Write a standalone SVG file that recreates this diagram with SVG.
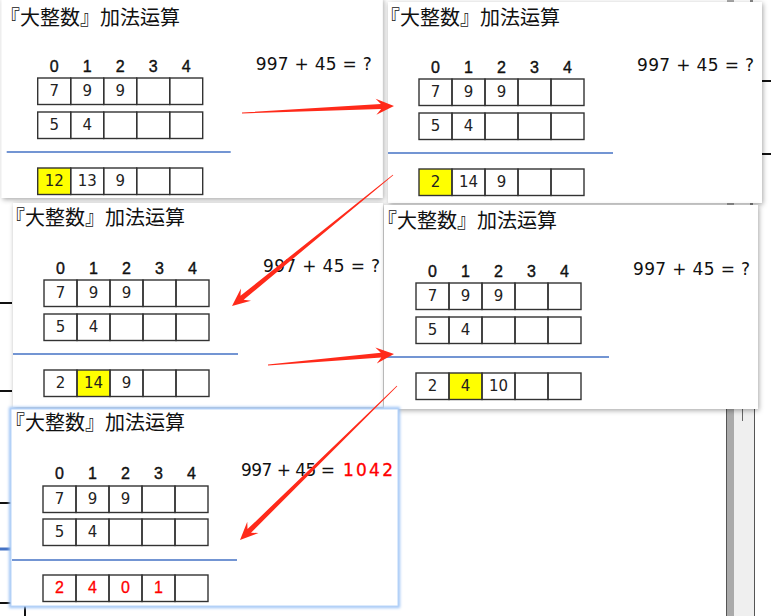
<svg xmlns="http://www.w3.org/2000/svg" width="771" height="616" viewBox="0 0 771 616">
<defs>
<filter id="sh" x="-10%" y="-10%" width="120%" height="120%">
<feDropShadow dx="1" dy="1.5" stdDeviation="2.5" flood-color="#000" flood-opacity="0.35"/>
</filter>
<filter id="glow" x="-10%" y="-10%" width="120%" height="120%">
<feGaussianBlur stdDeviation="1.5"/>
</filter>
</defs>
<style>
.pn{fill:#fff}
.ttl{font-family:"Noto Sans CJK JP","Noto Sans CJK SC",sans-serif;font-size:20px;fill:#111}
.hd{font-family:"Liberation Sans",Arial,sans-serif;font-size:16px;fill:#111;text-anchor:middle;stroke:#111;stroke-width:0.4}
.cell{fill:none;stroke:#333;stroke-width:1.4}
.cv{font-family:"DejaVu Sans","Liberation Sans",sans-serif;font-size:15px;fill:#222;text-anchor:middle}
.red{fill:#ff0000;font-family:"Liberation Sans",Arial,sans-serif;font-size:16px;stroke:#ff0000;stroke-width:0.3}
.eq{font-family:"DejaVu Sans","Liberation Sans",sans-serif;font-size:17px;fill:#111}
.bl{stroke:#4472c4;stroke-width:1.3}
.hl{fill:#ffff00}
.arw{fill:#ff2a1a}
.tk{stroke:#111;stroke-width:2}
</style>
<rect width="771" height="616" fill="#fff"/>
<g id="background">
<line class="tk" x1="0" y1="303" x2="12" y2="303"/>
<line class="tk" x1="0" y1="391" x2="12" y2="391"/>
<line class="tk" x1="0" y1="503" x2="12" y2="503"/>
<line x1="0" y1="549" x2="12" y2="549" stroke="#4472c4" stroke-width="3"/>
<line class="tk" x1="0" y1="603" x2="12" y2="603"/>
<line class="tk" x1="25" y1="606" x2="25" y2="616"/>
<line class="tk" x1="762" y1="81" x2="771" y2="81"/>
<line class="tk" x1="762" y1="154" x2="771" y2="154"/>
<rect x="726" y="400" width="8" height="216" fill="#aaa"/>
<rect x="734" y="400" width="20" height="216" fill="#efefef"/>
<line x1="726.5" y1="400" x2="726.5" y2="616" stroke="#555" stroke-width="1"/>
<line x1="754.5" y1="400" x2="754.5" y2="616" stroke="#555" stroke-width="1"/>
<line x1="742.5" y1="409" x2="742.5" y2="421" stroke="#666" stroke-width="1"/>
<rect x="727" y="0" width="7" height="3" fill="#aaa"/>
<rect x="750" y="0" width="3" height="3" fill="#888"/>
<rect x="727" y="202" width="7" height="4" fill="#aaa"/>
<rect x="750" y="202" width="3" height="4" fill="#888"/>
</g>

<g id="panel1" transform="translate(37.7,78)">
<rect class="pn" x="-36" y="-80" width="381" height="200" filter="url(#sh)"/>
<text class="ttl" x="-37.7" y="-53.5">『大整数』加法运算</text>
<text class="hd" y="-6"><tspan x="16.5">0</tspan><tspan x="49.5">1</tspan><tspan x="82.5">2</tspan><tspan x="115.5">3</tspan><tspan x="148.5">4</tspan></text>
<rect class="hl" x="0" y="90" width="33" height="26.5"/>
<g class="cell"><rect x="0" y="0" width="33" height="26.5"/><rect x="33" y="0" width="33" height="26.5"/><rect x="66" y="0" width="33" height="26.5"/><rect x="99" y="0" width="33" height="26.5"/><rect x="132" y="0" width="33" height="26.5"/>
<rect x="0" y="34" width="33" height="26.5"/><rect x="33" y="34" width="33" height="26.5"/><rect x="66" y="34" width="33" height="26.5"/><rect x="99" y="34" width="33" height="26.5"/><rect x="132" y="34" width="33" height="26.5"/>
<rect x="0" y="90" width="33" height="26.5"/><rect x="33" y="90" width="33" height="26.5"/><rect x="66" y="90" width="33" height="26.5"/><rect x="99" y="90" width="33" height="26.5"/><rect x="132" y="90" width="33" height="26.5"/></g>
<text class="cv" y="18"><tspan x="16.5">7</tspan><tspan x="49.5">9</tspan><tspan x="82.5">9</tspan></text>
<text class="cv" y="52"><tspan x="16.5">5</tspan><tspan x="49.5">4</tspan></text>
<line class="bl" x1="-31" y1="74" x2="193" y2="74"/>
<text class="cv" y="108"><tspan x="16.5">12</tspan><tspan x="49.5">13</tspan><tspan x="82.5">9</tspan></text>
<text class="eq" x="218" y="-8" textLength="116" lengthAdjust="spacing">997 + 45 = ?</text>
</g>

<g id="panel2" transform="translate(419,79)">
<rect class="pn" x="-31" y="-77" width="374" height="201" filter="url(#sh)"/>
<text class="ttl" x="-39" y="-54">『大整数』加法运算</text>
<text class="hd" y="-6"><tspan x="16.5">0</tspan><tspan x="49.5">1</tspan><tspan x="82.5">2</tspan><tspan x="115.5">3</tspan><tspan x="148.5">4</tspan></text>
<rect class="hl" x="0" y="90" width="33" height="26.5"/>
<g class="cell"><rect x="0" y="0" width="33" height="26.5"/><rect x="33" y="0" width="33" height="26.5"/><rect x="66" y="0" width="33" height="26.5"/><rect x="99" y="0" width="33" height="26.5"/><rect x="132" y="0" width="33" height="26.5"/>
<rect x="0" y="34" width="33" height="26.5"/><rect x="33" y="34" width="33" height="26.5"/><rect x="66" y="34" width="33" height="26.5"/><rect x="99" y="34" width="33" height="26.5"/><rect x="132" y="34" width="33" height="26.5"/>
<rect x="0" y="90" width="33" height="26.5"/><rect x="33" y="90" width="33" height="26.5"/><rect x="66" y="90" width="33" height="26.5"/><rect x="99" y="90" width="33" height="26.5"/><rect x="132" y="90" width="33" height="26.5"/></g>
<text class="cv" y="18"><tspan x="16.5">7</tspan><tspan x="49.5">9</tspan><tspan x="82.5">9</tspan></text>
<text class="cv" y="52"><tspan x="16.5">5</tspan><tspan x="49.5">4</tspan></text>
<line class="bl" x1="-31" y1="74" x2="194" y2="74"/>
<text class="cv" y="108"><tspan x="16.5">2</tspan><tspan x="49.5">14</tspan><tspan x="82.5">9</tspan></text>
<text class="eq" x="218" y="-8" textLength="117" lengthAdjust="spacing">997 + 45 = ?</text>
</g>

<g id="panel3" transform="translate(44,280)">
<rect class="pn" x="-31" y="-77" width="370" height="204" filter="url(#sh)"/>
<text class="ttl" x="-39" y="-55">『大整数』加法运算</text>
<text class="hd" y="-6"><tspan x="16.5">0</tspan><tspan x="49.5">1</tspan><tspan x="82.5">2</tspan><tspan x="115.5">3</tspan><tspan x="148.5">4</tspan></text>
<rect class="hl" x="33" y="90" width="33" height="26.5"/>
<g class="cell"><rect x="0" y="0" width="33" height="26.5"/><rect x="33" y="0" width="33" height="26.5"/><rect x="66" y="0" width="33" height="26.5"/><rect x="99" y="0" width="33" height="26.5"/><rect x="132" y="0" width="33" height="26.5"/>
<rect x="0" y="34" width="33" height="26.5"/><rect x="33" y="34" width="33" height="26.5"/><rect x="66" y="34" width="33" height="26.5"/><rect x="99" y="34" width="33" height="26.5"/><rect x="132" y="34" width="33" height="26.5"/>
<rect x="0" y="90" width="33" height="26.5"/><rect x="33" y="90" width="33" height="26.5"/><rect x="66" y="90" width="33" height="26.5"/><rect x="99" y="90" width="33" height="26.5"/><rect x="132" y="90" width="33" height="26.5"/></g>
<text class="cv" y="18"><tspan x="16.5">7</tspan><tspan x="49.5">9</tspan><tspan x="82.5">9</tspan></text>
<text class="cv" y="52"><tspan x="16.5">5</tspan><tspan x="49.5">4</tspan></text>
<line class="bl" x1="-31" y1="74" x2="194" y2="74"/>
<text class="cv" y="108"><tspan x="16.5">2</tspan><tspan x="49.5">14</tspan><tspan x="82.5">9</tspan></text>
<text class="eq" x="219" y="-8" textLength="117" lengthAdjust="spacing">997 + 45 = ?</text>
</g>

<g id="panel4" transform="translate(416,283)">
<rect class="pn" x="-32" y="-78" width="374" height="204" filter="url(#sh)"/>
<text class="ttl" x="-39" y="-55">『大整数』加法运算</text>
<text class="hd" y="-6"><tspan x="16.5">0</tspan><tspan x="49.5">1</tspan><tspan x="82.5">2</tspan><tspan x="115.5">3</tspan><tspan x="148.5">4</tspan></text>
<rect class="hl" x="33" y="90" width="33" height="26.5"/>
<g class="cell"><rect x="0" y="0" width="33" height="26.5"/><rect x="33" y="0" width="33" height="26.5"/><rect x="66" y="0" width="33" height="26.5"/><rect x="99" y="0" width="33" height="26.5"/><rect x="132" y="0" width="33" height="26.5"/>
<rect x="0" y="34" width="33" height="26.5"/><rect x="33" y="34" width="33" height="26.5"/><rect x="66" y="34" width="33" height="26.5"/><rect x="99" y="34" width="33" height="26.5"/><rect x="132" y="34" width="33" height="26.5"/>
<rect x="0" y="90" width="33" height="26.5"/><rect x="33" y="90" width="33" height="26.5"/><rect x="66" y="90" width="33" height="26.5"/><rect x="99" y="90" width="33" height="26.5"/><rect x="132" y="90" width="33" height="26.5"/></g>
<text class="cv" y="18"><tspan x="16.5">7</tspan><tspan x="49.5">9</tspan><tspan x="82.5">9</tspan></text>
<text class="cv" y="52"><tspan x="16.5">5</tspan><tspan x="49.5">4</tspan></text>
<line class="bl" x1="-32" y1="74" x2="193" y2="74"/>
<text class="cv" y="108"><tspan x="16.5">2</tspan><tspan x="49.5">4</tspan><tspan x="82.5">10</tspan></text>
<text class="eq" x="217" y="-8" textLength="117" lengthAdjust="spacing">997 + 45 = ?</text>
</g>

<g id="panel5" transform="translate(43,486)">
<rect x="-32" y="-77" width="387" height="197" fill="none" stroke="#9cc3f5" stroke-width="4" filter="url(#glow)"/>
<rect class="pn" x="-32" y="-77" width="387" height="197" stroke="#b8d4f8" stroke-width="1"/>
<text class="ttl" x="-38" y="-56">『大整数』加法运算</text>
<text class="hd" y="-7"><tspan x="16.5">0</tspan><tspan x="49.5">1</tspan><tspan x="82.5">2</tspan><tspan x="115.5">3</tspan><tspan x="148.5">4</tspan></text>
<g class="cell"><rect x="0" y="0" width="33" height="26.5"/><rect x="33" y="0" width="33" height="26.5"/><rect x="66" y="0" width="33" height="26.5"/><rect x="99" y="0" width="33" height="26.5"/><rect x="132" y="0" width="33" height="26.5"/>
<rect x="0" y="33" width="33" height="26.5"/><rect x="33" y="33" width="33" height="26.5"/><rect x="66" y="33" width="33" height="26.5"/><rect x="99" y="33" width="33" height="26.5"/><rect x="132" y="33" width="33" height="26.5"/>
<rect x="0" y="89" width="33" height="26.5"/><rect x="33" y="89" width="33" height="26.5"/><rect x="66" y="89" width="33" height="26.5"/><rect x="99" y="89" width="33" height="26.5"/><rect x="132" y="89" width="33" height="26.5"/></g>
<text class="cv" y="18"><tspan x="16.5">7</tspan><tspan x="49.5">9</tspan><tspan x="82.5">9</tspan></text>
<text class="cv" y="51"><tspan x="16.5">5</tspan><tspan x="49.5">4</tspan></text>
<line class="bl" x1="-31" y1="74" x2="194" y2="74"/>
<text class="cv red" y="107"><tspan x="16.5">2</tspan><tspan x="49.5">4</tspan><tspan x="82.5">0</tspan><tspan x="115.5">1</tspan></text>
<text class="eq" x="198" y="-10" textLength="94" lengthAdjust="spacing">997 + 45 =</text>
<text class="eq" x="300" y="-10" style="fill:#ff0000;stroke:#ff0000;stroke-width:0.3" textLength="50" lengthAdjust="spacing">1042</text>
</g>

<g id="connectors">
<polygon class="arw" points="241.98,112.6 380.90,104.10 375.65,98.84 394,106 376.39,114.82 381.13,109.10 242.02,113.4"/>
<polygon class="arw" points="392.75,174.69 240.50,295.86 240.91,288.44 232,306 251.01,300.84 243.66,299.74 393.25,175.31"/>
<polygon class="arw" points="267.97,364.6 380.83,352.64 375.37,347.60 394,354 376.77,363.54 381.27,357.62 268.03,365.4"/>
<polygon class="arw" points="396.72,385.71 247.53,529.12 247.25,521.69 240,540 258.45,533.11 251.03,532.69 397.28,386.29"/>
</g>
</svg>
